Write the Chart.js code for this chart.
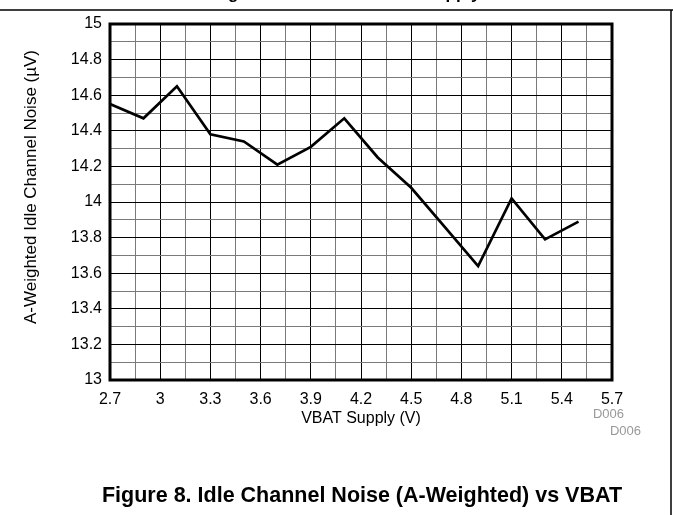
<!DOCTYPE html>
<html lang="en">
<head>
    <meta charset="UTF-8">
    <title>Idle Channel Noise (A-Weighted) vs VBAT</title>
    <script src="https://cdn.jsdelivr.net/npm/chart.js"></script>
    <style>
        body { margin: 0; background: #fff; }
        canvas { display: block; }
    </style>
</head>
<body>
    <canvas id="noiseChart" width="673" height="515"></canvas>

    <script>
        // values
        const vbat = [2.7, 2.9, 3.1, 3.3, 3.5, 3.7, 3.9, 4.1, 4.3, 4.5, 4.7, 4.9, 5.1, 5.3, 5.5];
        const noise = [14.55, 14.47, 14.65, 14.38, 14.34, 14.21, 14.31, 14.47, 14.25, 14.08, 13.86, 13.64, 14.02, 13.79, 13.89];

        const xTickLabels = ['2.7', '3', '3.3', '3.6', '3.9', '4.2', '4.5', '4.8', '5.1', '5.4', '5.7'];
        const yTickLabels = ['13', '13.2', '13.4', '13.6', '13.8', '14', '14.2', '14.4', '14.6', '14.8', '15'];

        const FONT = 'Liberation Sans, Arial, sans-serif';

        // major tick plus a minor grid line half way to the next one
        function withMinor(labels) {
            const vals = labels.map(Number);
            const out = [];
            vals.forEach((v, i) => {
                out.push({ value: v });
                if (i < vals.length - 1) out.push({ value: (v + vals[i + 1]) / 2 });
            });
            return out;
        }

        const gridColor = ctx => (ctx.index % 2 === 0 ? '#000' : '#7a7a7a');

        const framePlugin = {
            id: 'frame',
            beforeDatasetsDraw(chart) {
                const { ctx, chartArea: a } = chart;
                ctx.save();
                ctx.strokeStyle = '#000';
                ctx.lineWidth = 3;
                ctx.strokeRect(a.left, a.top, a.right - a.left, a.bottom - a.top);
                ctx.restore();
            },
            afterDraw(chart) {
                const ctx = chart.ctx;
                ctx.save();
                // page rules from the datasheet
                ctx.strokeStyle = '#000';
                ctx.lineWidth = 1.5;
                ctx.beginPath();
                ctx.moveTo(0, 10);
                ctx.lineTo(673, 10);
                ctx.moveTo(671, 10);
                ctx.lineTo(671, 515);
                ctx.stroke();

                // previous figure's caption, cut by the page edge
                ctx.fillStyle = '#000';
                ctx.font = 'bold 17px ' + FONT;
                ctx.textAlign = 'left';
                ctx.textBaseline = 'alphabetic';
                ctx.fillText('Figure 7. THD+N vs VBAT Supply', 213, -1);

                // y axis title, sits a little above the plot centre
                ctx.save();
                ctx.translate(31, 187);
                ctx.rotate(-Math.PI / 2);
                ctx.font = '17px ' + FONT;
                ctx.textAlign = 'center';
                ctx.textBaseline = 'middle';
                ctx.fillText('A-Weighted Idle Channel Noise (µV)', 0, 0);
                ctx.restore();

                ctx.fillStyle = '#999';
                ctx.font = '13px ' + FONT;
                ctx.textAlign = 'right';
                ctx.textBaseline = 'middle';
                ctx.fillText('D006', 624, 414);
                ctx.fillText('D006', 641, 431);

                ctx.fillStyle = '#000';
                ctx.font = 'bold 21.5px ' + FONT;
                ctx.textAlign = 'center';
                ctx.fillText('Figure 8. Idle Channel Noise (A-Weighted) vs VBAT', 362, 496);
                ctx.restore();
            }
        };

        const ctx = document.getElementById('noiseChart').getContext('2d');
        new Chart(ctx, {
            type: 'line',
            data: {
                datasets: [{
                    data: vbat.map((v, i) => ({ x: v, y: noise[i] })),
                    borderColor: '#000',
                    borderWidth: 2.7,
                    pointRadius: 0,
                    tension: 0,
                    fill: false
                }]
            },
            options: {
                responsive: false,
                animation: false,
                layout: { padding: { top: 24, right: 61, left: 0, bottom: 0 } },
                plugins: {
                    legend: { display: false },
                    tooltip: { enabled: false }
                },
                scales: {
                    x: {
                        type: 'linear',
                        min: 2.7,
                        max: 5.7,
                        afterBuildTicks: s => { s.ticks = withMinor(xTickLabels); },
                        afterFit: s => { s.height = 135; },
                        border: { display: false },
                        grid: { color: gridColor, lineWidth: 1, drawTicks: false },
                        ticks: {
                            autoSkip: false,
                            maxRotation: 0,
                            padding: 10,
                            color: '#000',
                            font: { family: FONT, size: 16 },
                            callback: (v, i) => (i % 2 === 0 ? xTickLabels[i / 2] : '')
                        },
                        title: {
                            display: true,
                            text: 'VBAT Supply (V)',
                            color: '#000',
                            font: { family: FONT, size: 16 },
                            padding: { top: 0, bottom: 87 }
                        }
                    },
                    y: {
                        type: 'linear',
                        min: 13,
                        max: 15,
                        afterBuildTicks: s => { s.ticks = withMinor(yTickLabels); },
                        afterFit: s => { s.width = 110; },
                        border: { display: false },
                        grid: { color: gridColor, lineWidth: 1, drawTicks: false },
                        ticks: {
                            autoSkip: false,
                            padding: 8,
                            color: '#000',
                            font: { family: FONT, size: 16 },
                            callback: (v, i) => (i % 2 === 0 ? yTickLabels[i / 2] : '')
                        }
                    }
                }
            },
            plugins: [framePlugin]
        });
    </script>
</body>
</html>
